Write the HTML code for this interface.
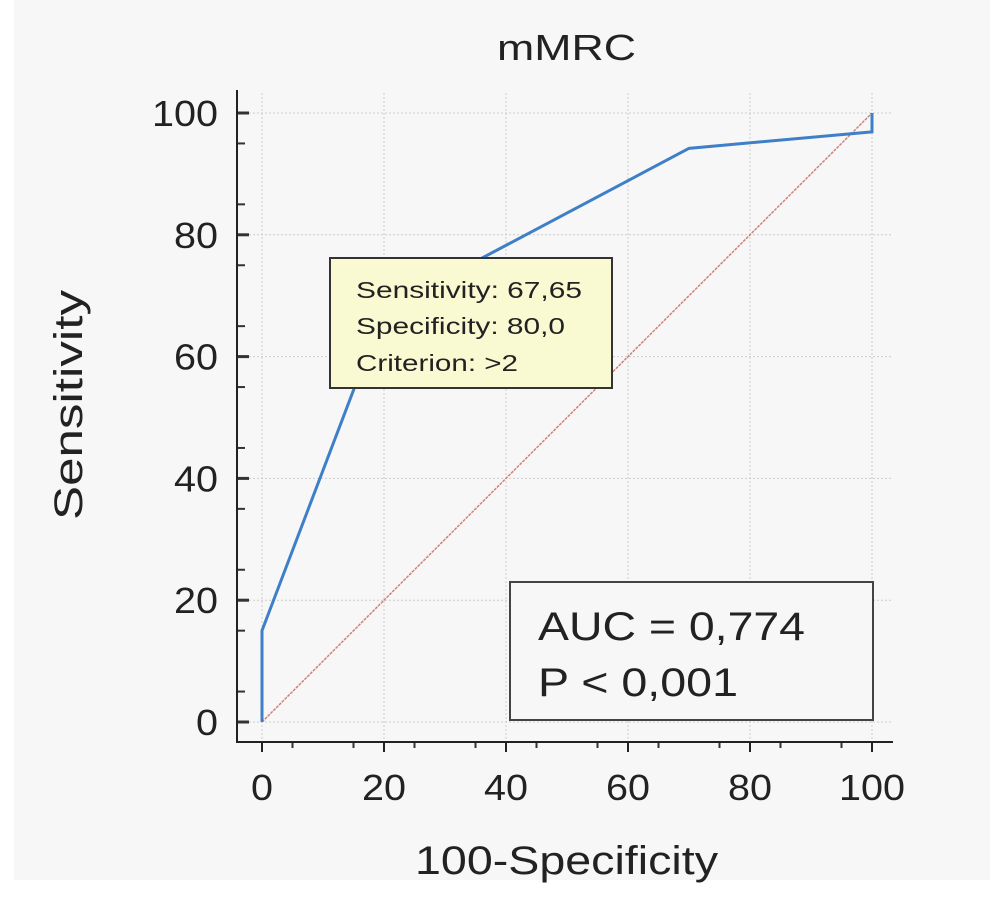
<!DOCTYPE html>
<html><head><meta charset="utf-8"><style>
body{margin:0;background:#fff;}
svg{display:block;font-family:"Liberation Sans",sans-serif;}
</style></head><body>
<svg width="1005" height="908" viewBox="0 0 1005 908">
<rect x="14" y="0" width="976" height="880" fill="#f7f7f7"/>
<text x="497" y="60" font-size="36" textLength="139" lengthAdjust="spacingAndGlyphs" fill="#222">mMRC</text>
<g id="grid"></g>
<g id="axes"></g>
<g id="marks"></g>
<text x="415" y="874" font-size="40" textLength="303" lengthAdjust="spacingAndGlyphs" fill="#222">100-Specificity</text>
<text transform="translate(82,520) rotate(-90)" font-size="40" textLength="230" lengthAdjust="spacingAndGlyphs" fill="#222">Sensitivity</text>
<g>
<rect x="330" y="258" width="282" height="130" fill="#fafad2" stroke="#333" stroke-width="2"/>
<text x="356" y="298" font-size="23" textLength="226" lengthAdjust="spacingAndGlyphs" fill="#222">Sensitivity: 67,65</text>
<text x="356" y="334" font-size="23" textLength="209" lengthAdjust="spacingAndGlyphs" fill="#222">Specificity: 80,0</text>
<text x="356" y="371" font-size="23" textLength="162" lengthAdjust="spacingAndGlyphs" fill="#222">Criterion: &gt;2</text>
</g>
<g>
<rect x="510" y="582" width="363" height="138" fill="#f7f7f7" stroke="#444" stroke-width="2"/>
<text x="538" y="640" font-size="40" textLength="267" lengthAdjust="spacingAndGlyphs" fill="#222">AUC = 0,774</text>
<text x="538" y="696" font-size="40" textLength="200" lengthAdjust="spacingAndGlyphs" fill="#222">P &lt; 0,001</text>
</g>
</svg>
<script>
const fpr=[0,0,20,70,100,100];
const tpr=[0,15,67.65,94.2,96.9,100];
const xTicks=[0,20,40,60,80,100];
const yTicks=[0,20,40,60,80,100];
const NS="http://www.w3.org/2000/svg";
const X=v=>262+v*6.1, Y=v=>722-v*6.09;
function mk(tag,attrs,parent){const e=document.createElementNS(NS,tag);for(const k in attrs)e.setAttribute(k,attrs[k]);parent.appendChild(e);return e;}
const grid=document.getElementById('grid'),axes=document.getElementById('axes'),marks=document.getElementById('marks');
const lw=t=>String(t).length*22;
xTicks.forEach(t=>{const l=mk('line',{x1:X(t),x2:X(t),y1:Y(100)-20,y2:742,stroke:'#ccc','stroke-dasharray':'2,2'},grid);


const tx=mk('text',{x:X(t),y:800,'font-size':36,'text-anchor':'middle',textLength:lw(t),lengthAdjust:'spacingAndGlyphs',fill:'#222'},axes);tx.textContent=t;


mk('line',{x1:X(t),x2:X(t),y1:742,y2:752,stroke:'#222','stroke-width':2},axes);});
yTicks.forEach(t=>{const l=mk('line',{x1:237,x2:892,y1:Y(t),y2:Y(t),stroke:'#ccc','stroke-dasharray':'2,2'},grid);


const tx=mk('text',{x:218,y:Y(t)+13,'font-size':36,'text-anchor':'end',textLength:lw(t),lengthAdjust:'spacingAndGlyphs',fill:'#222'},axes);tx.textContent=t;


mk('line',{x1:237,x2:249,y1:Y(t),y2:Y(t),stroke:'#333','stroke-width':3},axes);});
for(let v=5;v<100;v+=10){mk('line',{x1:237,x2:245,y1:Y(v),y2:Y(v),stroke:'#333','stroke-width':2},axes);mk('line',{x1:X(v),x2:X(v),y1:742,y2:748,stroke:'#333','stroke-width':2},axes);}
mk('line',{x1:237,x2:237,y1:90,y2:743,stroke:'#222','stroke-width':2},axes);
mk('line',{x1:236,x2:893,y1:742,y2:742,stroke:'#222','stroke-width':2},axes);
const diag=mk('line',{x1:X(0),y1:Y(0),x2:X(100),y2:Y(100),stroke:'#d08080','stroke-width':1.5,'stroke-dasharray':'3,1'},marks);


const roc=mk('polyline',{points:fpr.map((f,i)=>X(f)+','+Y(tpr[i])).join(' '),fill:'none',stroke:'#3f7fc8','stroke-width':3},marks);


</script>
</body></html>
